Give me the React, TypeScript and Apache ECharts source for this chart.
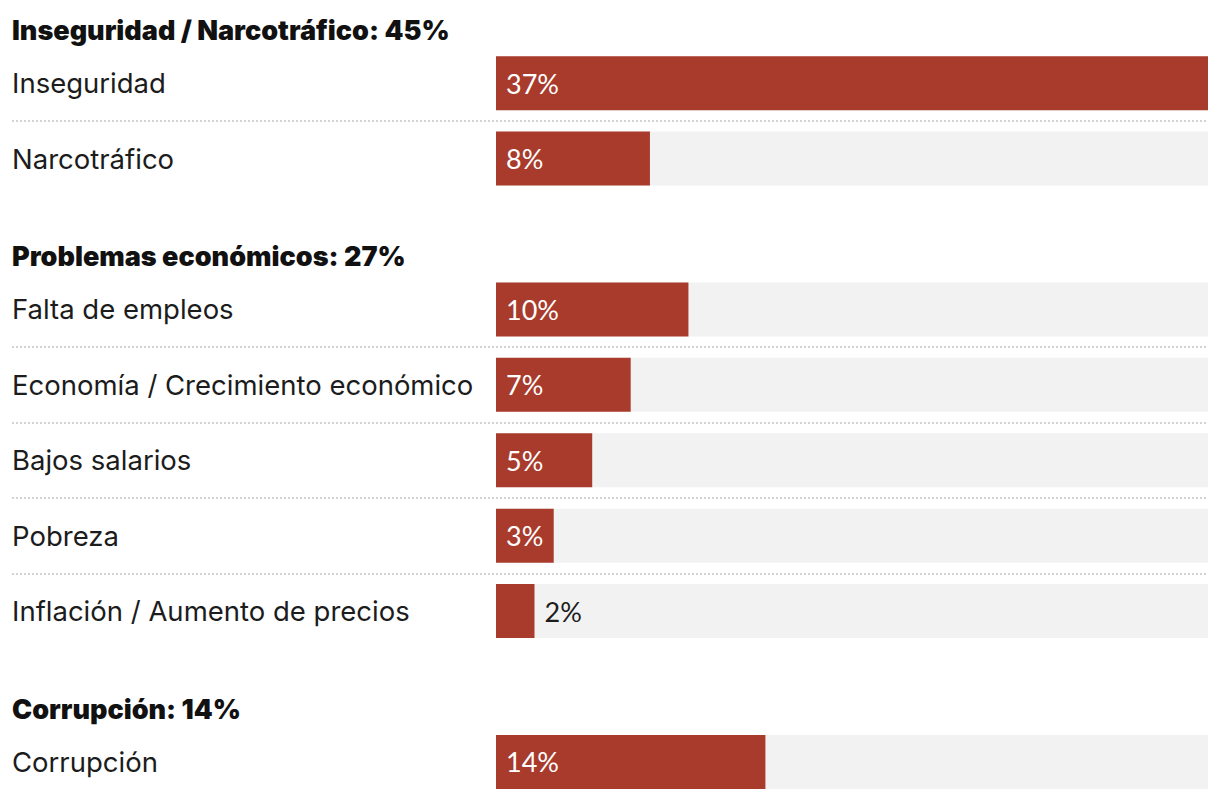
import React, { useEffect, useRef } from "react";
import * as echarts from "echarts";

const groups = ["Inseguridad / Narcotráfico", "Problemas económicos", "Corrupción"];
const groupTotals = [45, 27, 14];
const categories = [
  "Inseguridad",
  "Narcotráfico",
  "Falta de empleos",
  "Economía / Crecimiento económico",
  "Bajos salarios",
  "Pobreza",
  "Inflación / Aumento de precios",
  "Corrupción",
];
const values = [37, 8, 10, 7, 5, 3, 2, 14];
const categoryGroup = [0, 0, 1, 1, 1, 1, 1, 2];
const axisMax = 37;

type Row = { key: string; text: string; header: boolean; spacer?: boolean; value: number | null };

function buildRows(): Row[] {
  const rows: Row[] = [];
  let last = -1;
  categories.forEach((c, i) => {
    const g = categoryGroup[i];
    if (g !== last) {
      rows.push({ key: "h" + g, text: `${groups[g]}: ${groupTotals[g]}%`, header: true, value: null });
      last = g;
    }
    rows.push({ key: "c" + i, text: c, header: false, value: values[i] });
  });
  rows.push({ key: "end", text: "", header: true, spacer: true, value: null });
  return rows;
}

const FONT = "Inter, 'Liberation Sans', sans-serif";
const NUM_FONT = "Lato, Inter, sans-serif";
const BAR = "#a83b2c";
const TRACK = "#f2f2f2";
const SLOT = 75.44;
const FIRST_ROW_CENTER = 83;

export default function App() {
  const ref = useRef<HTMLDivElement>(null);
  const rows = buildRows();
  const offset = FIRST_ROW_CENTER - 1.5 * SLOT;
  const innerHeight = rows.length * SLOT;
  useEffect(() => {
    document.body.style.margin = "0";
    const chart = echarts.init(ref.current!, null, { renderer: "svg" });
    const keys = rows.map((r) => r.key);
    chart.setOption({
      animation: false,
      grid: [
        { left: 12, right: 12, top: 0, bottom: 0 },
        { left: 496, right: 12, top: 0, bottom: 0 },
      ],
      xAxis: [
        { type: "value", gridIndex: 0, min: 0, max: 1, show: false },
        { type: "value", gridIndex: 1, min: 0, max: axisMax, show: false },
      ],
      yAxis: [
        {
          type: "category",
          gridIndex: 0,
          data: keys,
          inverse: true,
          axisLine: { show: false },
          axisTick: { show: false },
          splitLine: {
            show: true,
            interval: (idx: number) =>
              idx > 0 && idx < rows.length && !rows[idx].header && !rows[idx - 1].header,
            lineStyle: { color: "#d3d3d3", width: 2, type: [2, 2] },
          },
          axisLabel: {
            inside: true,
            margin: 0,
            interval: 0,
            fontFamily: FONT,
            fontSize: 27.5,
            color: "#1c1c1c",
            formatter: (v: string) => {
              const r = rows[keys.indexOf(v)];
              if (r.spacer) return "";
              return r.header ? `{h|${r.text}}` : r.text;
            },
            rich: {
              h: {
                fontFamily: FONT,
                fontSize: 27,
                fontWeight: 900,
                color: "#111",
                padding: [46, 0, 0, 0],
              },
            },
          },
        },
        {
          type: "category",
          gridIndex: 1,
          data: keys,
          inverse: true,
          show: false,
        },
      ],
      series: [
        {
          type: "bar",
          xAxisIndex: 1,
          yAxisIndex: 1,
          barWidth: 54,
          barGap: "-100%",
          silent: true,
          itemStyle: { color: TRACK },
          data: rows.map((r) => (r.header ? "-" : axisMax)),
        },
        {
          type: "bar",
          xAxisIndex: 1,
          yAxisIndex: 1,
          barWidth: 54,
          barGap: "-100%",
          itemStyle: { color: BAR },
          label: {
            show: true,
            position: "insideLeft",
            distance: 10,
            color: "#fff",
            fontFamily: NUM_FONT,
            fontSize: 27,
            formatter: "{c}%",
          },
          data: rows.map((r) =>
            r.header
              ? "-"
              : r.value! < 3
              ? { value: r.value, label: { position: "right", color: "#1c1c1c" } }
              : r.value
          ),
        },
      ],
    });
    return () => chart.dispose();
  }, []);
  return (
    <div style={{ position: "relative", width: 1220, height: 800, overflow: "hidden" }}>
      <div
        ref={ref}
        style={{ position: "absolute", left: 0, top: offset, width: 1220, height: innerHeight }}
      />
    </div>
  );
}
